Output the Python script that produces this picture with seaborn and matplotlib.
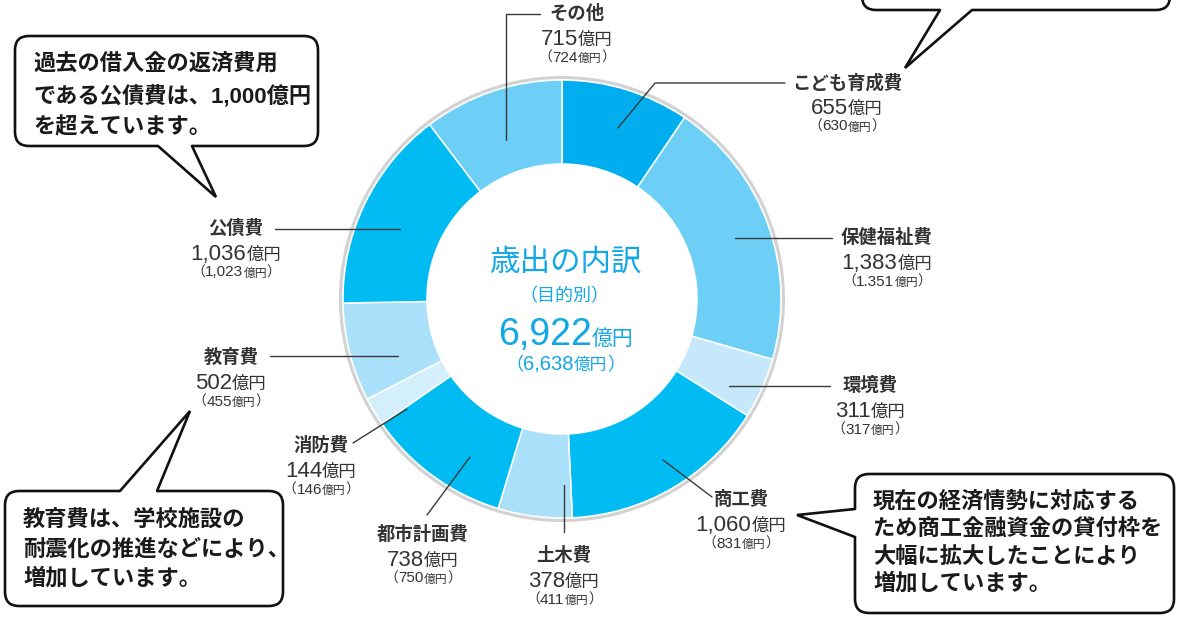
import matplotlib
matplotlib.use("Agg")
import matplotlib.pyplot as plt
import seaborn as sns
from matplotlib.patches import FancyBboxPatch, Polygon, Circle

# ---------------- data ----------------
categories = ["こども育成費", "保健福祉費", "環境費", "商工費", "土木費",
              "都市計画費", "消防費", "教育費", "公債費", "その他"]
values = [655, 1383, 311, 1060, 378, 738, 144, 502, 1036, 715]
prev_labels = ["630", "1.351", "317", "831", "411", "750", "146", "455", "1,023", "724"]
prev_total_label = "6,638"
center_title = "歳出の内訳"
center_sub = "（目的別）"

callout_texts = {
    "tl": ["過去の借入金の返済費用", "である公債費は、1,000億円", "を超えています。"],
    "bl": ["教育費は、学校施設の", "耐震化の推進などにより、", "増加しています。"],
    "br": ["現在の経済情勢に対応する", "ため商工金融資金の貸付枠を", "大幅に拡大したことにより", "増加しています。"],
}

# ---------------- style ----------------
sns.set_theme(style="white")
plt.rcParams["font.family"] = ["Liberation Sans", "Noto Sans CJK JP"]

palette = sns.color_palette(["#00AEEF", "#6DCFF6", "#C5E9FA", "#00BCF2", "#ABE0FA",
                             "#00BCF2", "#D3EFFC", "#ABE0FA", "#00BCF2", "#6DCFF6"])
TXT = "#333333"
CYAN = "#12A8E6"

W, H = 1183, 618
fig = plt.figure(figsize=(W / 100, H / 100), dpi=100)
ax = fig.add_axes([0, 0, 1, 1])

CX, CY, R_OUT, R_IN = 562, 299, 219, 135

ax.pie(values, colors=palette, startangle=-90, counterclock=True,
       center=(CX, CY), radius=R_OUT,
       wedgeprops=dict(width=R_OUT - R_IN, edgecolor="white", linewidth=1.1))
ax.set_xlim(0, W)
ax.set_ylim(H, 0)
ax.set_aspect("auto")
ax.axis("off")
ax.add_patch(Circle((CX, CY), R_OUT + 2.5, fill=False, ec="#D2D2D2", lw=2.2, zorder=2))

renderer = fig.canvas.get_renderer()


def mixed(x, y, parts, va="baseline"):
    """parts: list of (text, size, weight, color); drawn centred on x."""
    objs = []
    for t, s, w, c in parts:
        objs.append(ax.text(0, y, t, fontsize=s, fontweight=w, color=c,
                            ha="left", va=va, zorder=4))
    widths = [o.get_window_extent(renderer=renderer).width for o in objs]
    cur = x - sum(widths) / 2
    for o, wd in zip(objs, widths):
        o.set_x(cur)
        cur += wd


# label layout: centre x, name centre y, leader polyline
layout = {
    "こども育成費": (847, 83, [(618, 128), (655, 83), (785, 83)]),
    "保健福祉費": (887, 238, [(735, 238), (832, 238)]),
    "環境費": (870, 386, [(729, 386), (830, 386)]),
    "商工費": (741, 500, [(663, 460), (712, 497)]),
    "土木費": (564, 556, [(564, 485), (564, 532)]),
    "都市計画費": (423, 535, [(470, 457), (427, 515)]),
    "消防費": (321, 446, [(407, 409), (353, 443)]),
    "教育費": (231, 358, [(270, 356), (398, 356)]),
    "公債費": (236, 229, [(275, 229), (400, 229)]),
    "その他": (577, 14, [(506, 140), (506, 14), (540, 14)]),
}

for cat, val, prev in zip(categories, values, prev_labels):
    x, y, pts = layout[cat]
    ax.plot([p[0] for p in pts], [p[1] for p in pts], color="#3a3a3a", lw=1.0, zorder=3)
    ax.text(x, y, cat, fontsize=13.2, fontweight="bold", color=TXT, ha="center", va="center", zorder=4)
    mixed(x, y + 31, [(f"{val:,}", 16, "normal", TXT), ("億円", 12.5, "normal", TXT)])
    mixed(x, y + 47.5, [("（", 10, "normal", TXT), (prev, 11, "normal", TXT),
                        ("億円", 8.5, "normal", TXT), ("）", 10, "normal", TXT)])

# centre text
total = sum(values)
ax.text(CX + 3, 264, center_title, fontsize=22, color=CYAN, ha="center", va="center", zorder=4)
ax.text(CX + 2, 297, center_sub, fontsize=13, color=CYAN, ha="center", va="center", zorder=4)
mixed(CX + 4, 345, [(f"{total:,}", 27, "normal", CYAN), ("億円", 15, "normal", CYAN)])
mixed(CX + 3, 370, [("（", 13, "normal", CYAN), (prev_total_label, 14.5, "normal", CYAN),
                    ("億円", 12, "normal", CYAN), ("）", 13, "normal", CYAN)])


# ---------------- callouts ----------------
def callout(x0, y0, x1, y1, b1, b2, tip, inward):
    box = FancyBboxPatch((x0, y0), x1 - x0, y1 - y0,
                         boxstyle="round,pad=0,rounding_size=14",
                         fc="white", ec="#111111", lw=1.9, zorder=5)
    ax.add_patch(box)
    dx, dy = inward
    poly = Polygon([(b1[0] + dx, b1[1] + dy), b1, tip, b2, (b2[0] + dx, b2[1] + dy)],
                   closed=True, fc="white", ec="none", zorder=6)
    ax.add_patch(poly)
    ax.plot([b1[0], tip[0], b2[0]], [b1[1], tip[1], b2[1]], color="#111111", lw=1.9,
            zorder=7, solid_joinstyle="miter")


callout(15, 36, 318, 146, (158, 146), (192, 146), (216, 197), (0, -5))
callout(5, 491, 283, 606, (120, 491), (157, 491), (190, 411), (0, 5))
callout(855, 474, 1174, 613, (855, 509), (855, 537), (797, 515), (5, 0))
callout(862, -60, 1170, 10, (940, 10), (972, 10), (905, 68), (0, -5))

for (x, ys), lines in zip([(33, [64, 97, 128]), (23, [520, 550, 579]),
                           (873, [502, 529, 557, 584])],
                          [callout_texts["tl"], callout_texts["bl"], callout_texts["br"]]):
    for yy, line in zip(ys, lines):
        ax.text(x, yy, line, fontsize=16, fontweight="bold", color="#1a1a1a",
                ha="left", va="center", zorder=8)

fig.savefig("out.png", dpi=100, facecolor="white")
